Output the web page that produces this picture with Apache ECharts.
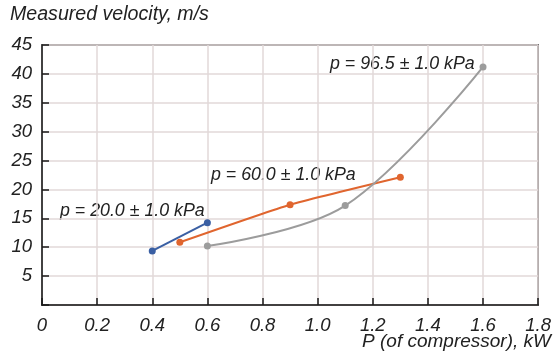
<!DOCTYPE html>
<html><head><meta charset="utf-8">
<script src="https://cdn.jsdelivr.net/npm/echarts@6/dist/echarts.min.js"></script>
<style>html,body{margin:0;padding:0;background:#fff}#c{width:554px;height:357px}</style>
</head><body><div id="c"></div>
<script>
var xTicks = [0, 0.2, 0.4, 0.6, 0.8, 1.0, 1.2, 1.4, 1.6, 1.8];
var yTicks = [5, 10, 15, 20, 25, 30, 35, 40, 45];
var p20x = [0.4, 0.6];
var p20y = [9.35, 14.25];
var p60x = [0.5, 0.9, 1.3];
var p60y = [10.85, 17.35, 22.1];
var p96x = [0.6, 1.1, 1.6];
var p96y = [10.2, 17.2, 41.2];
var seriesNames = ['p = 20.0 ± 1.0 kPa', 'p = 60.0 ± 1.0 kPa', 'p = 96.5 ± 1.0 kPa'];

function pairs(xs, ys){ return xs.map(function(x,i){return [x, ys[i]];}); }
var FONT = '"Liberation Sans", Arial, sans-serif';
var chart = echarts.init(document.getElementById('c'));
function txt(size){ return {fontFamily: FONT, fontStyle: 'italic', fontSize: size, fill: '#222'}; }
chart.setOption({
  animation: false,
  grid: {left: 42, right: 10, top: 45, bottom: 52, show: true, borderColor: '#1a1a1a', borderWidth: 1.5},
  xAxis: {
    type: 'value', min: 0, max: 1.8, interval: 0.2,
    axisLine: {show: true, onZero: false, lineStyle: {color: '#1a1a1a', width: 1.5}},
    axisTick: {show: true, inside: true, length: 7, lineStyle: {color: '#1a1a1a', width: 1.5}},
    splitLine: {show: true, lineStyle: {color: '#e2d9d9', width: 1.5}},
    axisLabel: {margin: 11, fontFamily: FONT, fontStyle: 'italic', fontSize: 18.5, color: '#222',
      formatter: function(v){ return v === 0 ? '0' : v.toFixed(1); }}
  },
  yAxis: {
    type: 'value', min: 0, max: 45, interval: 5,
    axisLine: {show: true, lineStyle: {color: '#1a1a1a', width: 1.5}},
    axisTick: {show: true, inside: true, length: 7, lineStyle: {color: '#1a1a1a', width: 1.5}},
    splitLine: {show: true, lineStyle: {color: '#e2d9d9', width: 1.5}},
    axisLabel: {margin: 10, fontFamily: FONT, fontStyle: 'italic', fontSize: 18.5, color: '#222',
      formatter: function(v){ return v === 0 ? '' : String(v); }}
  },
  series: [
    {name: seriesNames[0], type: 'line', data: pairs(p20x, p20y), symbol: 'circle', symbolSize: 7,
      lineStyle: {color: '#3a5fa3', width: 2}, itemStyle: {color: '#3a5fa3'}},
    {name: seriesNames[1], type: 'line', data: pairs(p60x, p60y), symbol: 'circle', symbolSize: 7, smooth: 0.15,
      lineStyle: {color: '#e0652e', width: 2}, itemStyle: {color: '#e0652e'}},
    {name: seriesNames[2], type: 'line', data: pairs(p96x, p96y), symbol: 'circle', symbolSize: 7, smooth: 0.35,
      lineStyle: {color: '#9c9c9c', width: 2}, itemStyle: {color: '#9c9c9c'}}
  ],
  graphic: [
    {type: 'text', left: 10, top: 5, style: Object.assign({text: 'Measured velocity, m/s'}, txt(19.6))},
    {type: 'text', right: 3, top: 332, style: Object.assign({text: 'P (of compressor), kW'}, txt(19))},
    {type: 'text', left: 60, top: 202, style: Object.assign({text: seriesNames[0]}, txt(17.8))},
    {type: 'text', left: 211, top: 166, style: Object.assign({text: seriesNames[1]}, txt(17.8))},
    {type: 'text', left: 330, top: 55, style: Object.assign({text: seriesNames[2]}, txt(17.8))}
  ]
});
</script></body></html>
